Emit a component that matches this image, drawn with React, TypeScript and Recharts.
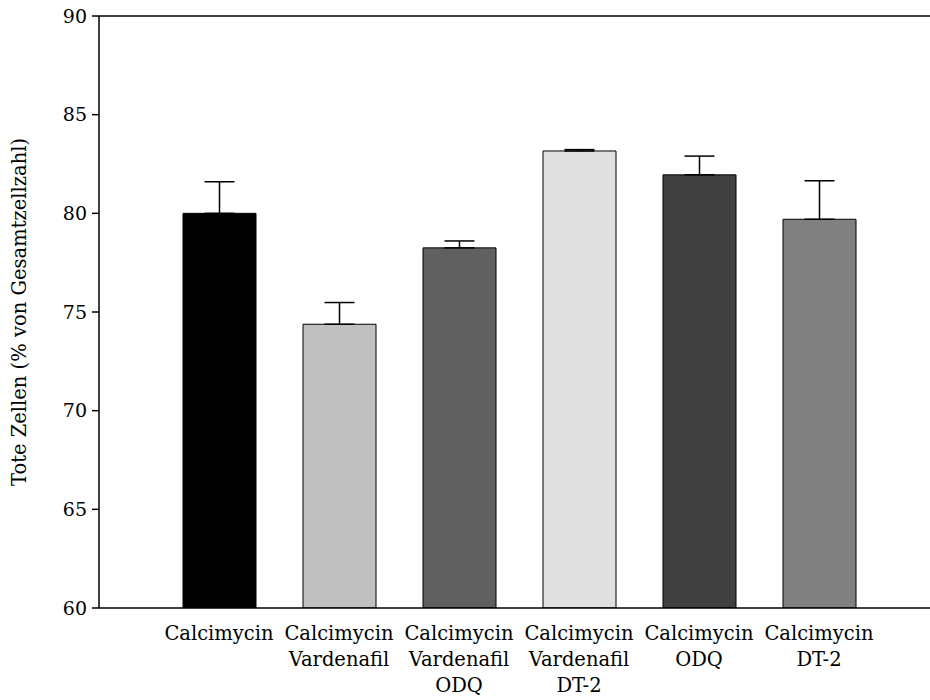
import { BarChart, Bar, XAxis, YAxis, ErrorBar, Cell, ReferenceLine } from 'recharts';

const categories = [
  'Calcimycin',
  'Calcimycin\nVardenafil',
  'Calcimycin\nVardenafil\nODQ',
  'Calcimycin\nVardenafil\nDT-2',
  'Calcimycin\nODQ',
  'Calcimycin\nDT-2',
];
const means = [80.0, 74.38, 78.25, 83.16, 81.95, 79.7];
const sems = [1.6, 1.1, 0.35, 0.07, 0.95, 1.95];
const fills = ['#000000', '#c0c0c0', '#606060', '#e0e0e0', '#404040', '#808080'];
const yTicks = [60, 65, 70, 75, 80, 85, 90];

const data = categories.map((name, i) => ({ name, value: means[i], err: [0, sems[i]] }));

const FONT = 'DejaVu Serif';

function CategoryTick({ x, y, payload }: any) {
  const lines = String(payload.value).split('\n');
  return (
    <text x={x} y={y} textAnchor="middle" style={{ fontFamily: FONT, fontSize: 19.5 }} fill="#000">
      {lines.map((l, i) => (
        <tspan key={i} x={x} dy={i === 0 ? 24 : 26}>
          {l}
        </tspan>
      ))}
    </text>
  );
}

export default function App() {
  return (
    <div style={{ position: 'absolute', left: 0, top: 0, background: '#fff' }}>
      <BarChart width={930} height={700} data={data} margin={{ top: 16, right: 0, bottom: 62, left: 0 }}>
        <XAxis
          dataKey="name"
          tick={<CategoryTick />}
          tickLine={false}
          axisLine={{ stroke: '#000', strokeWidth: 1.5 }}
          padding={{ left: 60, right: 51 }}
          interval={0}
        />
        <YAxis
          domain={[60, 90]}
          ticks={yTicks}
          width={99}
          tickSize={7}
          tickLine={{ stroke: '#000', strokeWidth: 1.5 }}
          axisLine={{ stroke: '#000', strokeWidth: 1.5 }}
          tick={{ fontFamily: FONT, fontSize: 19, fill: '#000', dx: -3 }}
          allowDataOverflow
          label={{
            value: 'Tote Zellen (% von Gesamtzellzahl)',
            angle: -90,
            position: 'insideLeft',
            offset: 19,
            style: { textAnchor: 'middle', fontFamily: FONT, fontSize: 19.5, fill: '#000' },
          }}
        />
        <ReferenceLine y={90} stroke="#000" strokeWidth={1.5} />
        <Bar dataKey="value" barSize={73} stroke="#000" strokeWidth={1} isAnimationActive={false}>
          {data.map((d, i) => (
            <Cell key={d.name} fill={fills[i]} />
          ))}
          <ErrorBar dataKey="err" width={15} stroke="#000" strokeWidth={1.5} />
        </Bar>
      </BarChart>
    </div>
  );
}
